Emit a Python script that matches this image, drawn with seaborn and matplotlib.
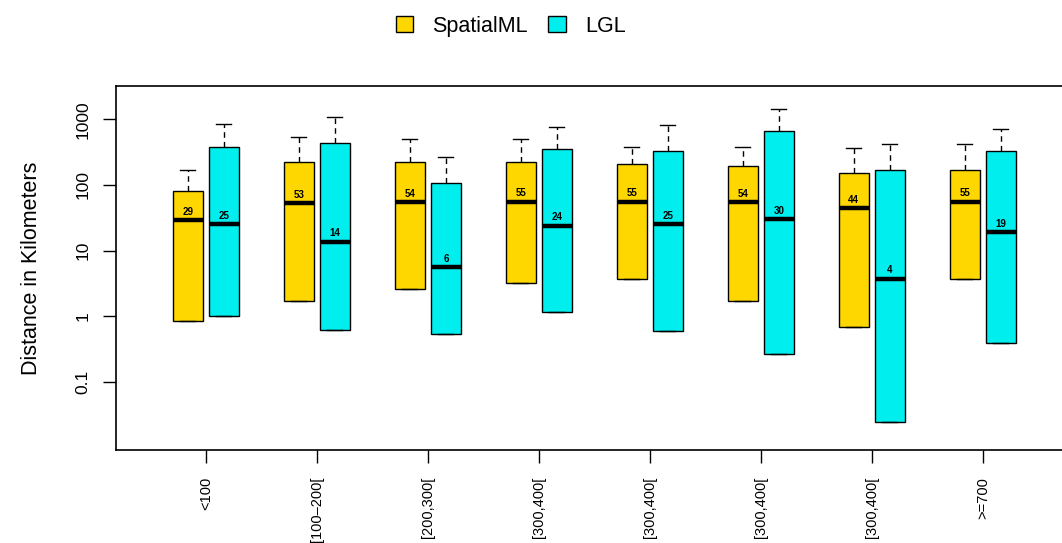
import pandas as pd
import matplotlib.pyplot as plt
import seaborn as sns
from matplotlib.patches import Patch

# Distance bins (x categories)
bins = ['<100', '[100–200[', '[200,300[', '[300,400[', '[300,400[',
        '[300,400[', '[300,400[', '>=700']

# Box summaries (km)
spatial_q1 = [0.85, 1.72, 2.62, 3.23, 3.72, 1.72, 0.69, 3.68]
spatial_med = [29, 53, 54, 55, 55, 54, 44, 55]
spatial_q3 = [81, 226, 226, 221, 208, 192, 150, 171]
spatial_max = [169, 530, 506, 506, 383, 383, 369, 416]

lgl_q1 = [1.01, 0.61, 0.53, 1.16, 0.60, 0.264, 0.024, 0.385]
lgl_med = [25, 13.6, 5.6, 24, 25, 30, 3.7, 19]
lgl_q3 = [378, 431, 108, 352, 333, 664, 171, 329]
lgl_max = [857, 1096, 269, 764, 818, 1436, 416, 711]

methods = ['SpatialML', 'LGL']
colors = {'SpatialML': '#FFD700', 'LGL': '#00EEEE'}

# Build long-form data: five points per box give q1, median, q3 and top whisker
rows = []
summaries = {
    'SpatialML': (spatial_q1, spatial_med, spatial_q3, spatial_max),
    'LGL': (lgl_q1, lgl_med, lgl_q3, lgl_max),
}
for m in methods:
    q1s, meds, q3s, maxs = summaries[m]
    for i in range(len(bins)):
        for v in [q1s[i], q1s[i], meds[i], q3s[i], maxs[i]]:
            rows.append({'bin': i, 'method': m, 'value': v})
df = pd.DataFrame(rows)

plt.rcParams['font.family'] = ['Liberation Sans', 'DejaVu Sans']

fig = plt.figure(figsize=(10.62, 5.43), dpi=100)
ax = fig.add_axes([116 / 1062, 1 - 450 / 543, 950 / 1062, 364 / 543])

sns.boxplot(data=df, x='bin', y='value', hue='method', hue_order=methods,
            palette=colors, saturation=1, log_scale=True, whis=(0, 100),
            width=0.65, gap=0.17, linecolor='black', linewidth=1.0,
            legend=False, ax=ax,
            whiskerprops=dict(linestyle=(0, (4, 3)), linewidth=1.0),
            medianprops=dict(linewidth=3.2, color='black'),
            capprops=dict(linewidth=1.0))

# Median labels
offsets = {'SpatialML': -0.1625, 'LGL': 0.1625}
for m in methods:
    meds = summaries[m][1]
    for i, med in enumerate(meds):
        ax.annotate(f"{round(med)}", (i + offsets[m], med),
                    xytext=(0, 2.5), textcoords='offset points',
                    ha='center', va='bottom', fontsize=7, fontweight='bold')

ax.set_yscale('log')
ax.set_ylim(10 ** -2.041, 10 ** 3.508)
ax.set_xlim(-0.81, 7.75)
ax.set_yticks([0.1, 1, 10, 100, 1000])
ax.set_yticklabels(['0.1', '1', '10', '100', '1000'], rotation=90, va='center')
ax.minorticks_off()
ax.set_xticks(range(len(bins)))
ax.set_xticklabels(bins, rotation=90, va='top', fontsize=10.5)
ax.tick_params(axis='y', length=9.5, width=1, pad=9, labelsize=12.5)
ax.tick_params(axis='x', length=9.5, width=1, pad=10)
ax.set_xlabel('')
ax.set_ylabel('Distance in Kilometers', fontsize=15.5, labelpad=24)
for s in ax.spines.values():
    s.set_linewidth(1.2)

handles = [Patch(facecolor=colors[m], edgecolor='black', linewidth=1.0, label=m)
           for m in methods]
fig.legend(handles=handles, loc='center', bbox_to_anchor=(0.481, 0.952),
           ncol=2, frameon=False, fontsize=15.5, handlelength=0.8,
           handleheight=0.8, handletextpad=0.9, columnspacing=0.95)

fig.savefig('out.png', dpi=100)
